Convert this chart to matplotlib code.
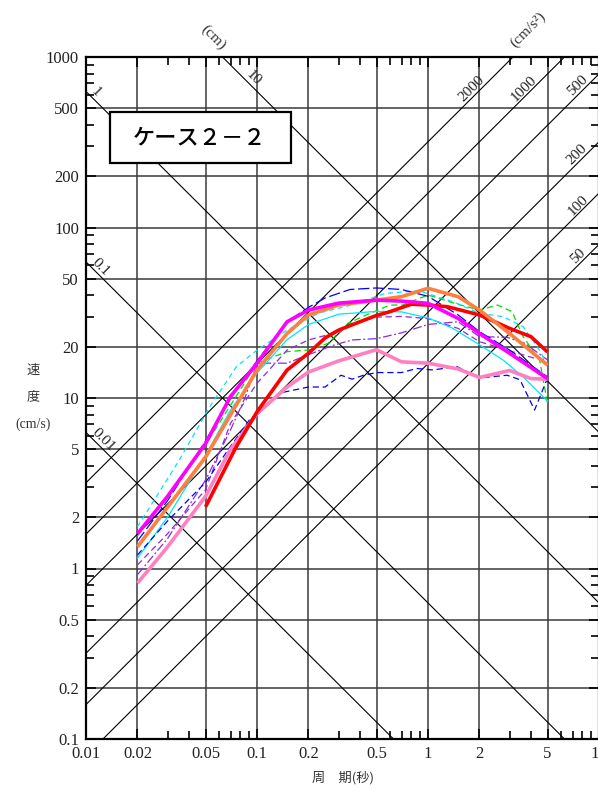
import numpy as np
import matplotlib
matplotlib.use("Agg")
import matplotlib.pyplot as plt
from matplotlib.patches import Rectangle

# ---------------- data ----------------
# thick lines
T_magenta = [0.02, 0.03, 0.05, 0.07, 0.1, 0.15, 0.2, 0.3, 0.5, 0.7, 1.0, 1.5, 2.0, 3.0, 5.0]
V_magenta = [1.6, 2.65, 5.4, 10.2, 16.0, 28.0, 32.8, 36.0, 37.5, 37.0, 35.9, 29.3, 23.9, 18.3, 13.0]

T_orange = [0.02, 0.05, 0.1, 0.15, 0.2, 0.3, 0.5, 0.7, 1.0, 1.5, 2.0, 3.0, 5.0]
V_orange = [1.34, 4.5, 14.6, 23.9, 30.7, 35.1, 37.5, 39.3, 44.0, 39.3, 32.8, 23.9, 15.6]

T_red = [0.05, 0.075, 0.1, 0.15, 0.2, 0.25, 0.3, 0.4, 0.5, 0.6, 0.8, 1.0, 1.3, 2.0, 3.0, 4.0, 5.0]
V_red = [2.3, 5.1, 8.3, 14.6, 18.3, 22.5, 25.0, 28.0, 30.5, 32.1, 35.5, 35.1, 34.3, 30.7, 25.6, 22.9, 18.6]

T_pink = [0.02, 0.03, 0.05, 0.07, 0.1, 0.15, 0.2, 0.3, 0.5, 0.7, 1.0, 1.5, 2.0, 3.0, 4.0, 5.0]
V_pink = [0.82, 1.34, 2.65, 5.0, 8.1, 11.6, 14.2, 16.5, 19.2, 16.3, 16.0, 14.8, 13.2, 14.5, 13.0, 12.9]

# thin lines
T_blue_hi = [0.02, 0.03, 0.05, 0.07, 0.1, 0.15, 0.2, 0.25, 0.35, 0.5, 0.7, 1.0, 1.5, 2.0, 3.0, 5.0]
V_blue_hi = [1.45, 2.5, 5.6, 10.0, 16.5, 28.0, 34.0, 38.6, 43.3, 44.2, 43.3, 39.5, 30.7, 24.5, 19.1, 13.3]

T_cyan_d = [0.02, 0.035, 0.053, 0.076, 0.1, 0.15, 0.23, 0.36, 0.56, 0.88, 1.4, 2.0, 2.75, 3.6, 4.5, 5.0]
V_cyan_d = [1.76, 4.3, 8.9, 15.3, 19.1, 25.0, 31.5, 35.2, 41.0, 42.6, 36.7, 31.4, 30.0, 26.2, 19.0, 15.5]

T_cyan_s = [0.02, 0.03, 0.05, 0.07, 0.1, 0.15, 0.2, 0.3, 0.5, 0.7, 1.0, 1.4, 2.0, 2.75, 3.6, 5.0]
V_cyan_s = [1.15, 2.0, 4.6, 8.5, 14.0, 22.0, 27.0, 31.0, 32.2, 32.0, 29.5, 25.6, 20.5, 16.7, 13.3, 9.6]

T_green = [0.02, 0.05, 0.1, 0.15, 0.2, 0.26, 0.34, 0.46, 0.6, 0.71, 1.0, 1.43, 2.0, 2.55, 3.1, 3.6, 4.5, 5.0]
V_green = [1.55, 5.3, 16.0, 18.7, 19.1, 20.9, 27.4, 31.4, 35.1, 35.1, 40.2, 35.9, 32.8, 35.1, 32.1, 22.9, 16.6, 9.3]

T_purple_a = [0.02, 0.03, 0.05, 0.07, 0.1, 0.15, 0.2, 0.26, 0.36, 0.5, 0.7, 1.0, 1.5, 2.0, 2.9, 4.2, 5.0]
V_purple_a = [1.05, 1.6, 2.9, 7.1, 12.2, 19.1, 21.9, 23.5, 27.5, 29.8, 30.1, 29.2, 25.6, 21.4, 19.1, 17.1, 16.7]

T_purple_b = [0.02, 0.03, 0.05, 0.07, 0.085, 0.1, 0.15, 0.19, 0.28, 0.36, 0.5, 0.7, 1.0, 1.5, 2.0, 2.9, 3.7, 5.0]
V_purple_b = [0.92, 1.5, 3.3, 6.5, 10.0, 16.0, 16.0, 17.6, 20.4, 21.9, 22.3, 24.1, 27.0, 28.0, 22.9, 22.7, 20.9, 16.7]

T_blue_lo = [0.02, 0.03, 0.05, 0.07, 0.09, 0.136, 0.2, 0.25, 0.31, 0.36, 0.42, 0.5, 0.7, 0.86, 1.07, 1.47, 2.0, 2.9, 3.45, 4.2, 5.0]
V_blue_lo = [1.2, 1.9, 3.2, 5.2, 7.4, 10.7, 11.6, 11.6, 13.6, 12.9, 13.6, 14.1, 14.1, 14.9, 14.6, 15.3, 13.1, 13.6, 12.8, 8.5, 13.1]

# tripartite guide values
disp_values = [0.01, 0.1, 1, 10]            # cm
disp_labels = ["0.01", "0.1", "1", "10"]
disp_label_T = [0.0118, 0.0115, 0.0107, 0.0892]
acc_values = [50, 100, 200, 500, 1000, 2000]  # cm/s^2
acc_labels = ["50", "100", "200", "500", "1000", "2000"]
acc_label_T = [8.05, 8.0, 7.9, 8.0, 3.87, 1.92]

x_ticks = [0.01, 0.02, 0.05, 0.1, 0.2, 0.5, 1, 2, 5, 10]
x_ticklabels = ["0.01", "0.02", "0.05", "0.1", "0.2", "0.5", "1", "2", "5", "10"]
y_ticks = [0.1, 0.2, 0.5, 1, 2, 5, 10, 20, 50, 100, 200, 500, 1000]
y_ticklabels = ["0.1", "0.2", "0.5", "1", "2", "5", "10", "20", "50", "100", "200", "500", "1000"]

title_text = "ケース２－２"

# ---------------- figure ----------------
W, H = 598, 788
fig = plt.figure(figsize=(W / 100, H / 100), dpi=100)
ax = fig.add_axes([86 / W, 1 - 739 / H, 513 / W, 682 / H])
ax.set_xscale("log")
ax.set_yscale("log")
ax.set_xlim(0.01, 10)
ax.set_ylim(0.1, 1000)

serif = "Liberation Serif"
cjk = ["Noto Sans CJK JP", "DejaVu Sans"]

ax.set_xticks(x_ticks)
ax.set_xticklabels(x_ticklabels)
ax.set_yticks(y_ticks)
ax.set_yticklabels(y_ticklabels)
minor_x = [m * d for d in [0.01, 0.1, 1] for m in [3, 4, 6, 7, 8, 9]]
minor_y = [m * d for d in [0.1, 1, 10, 100] for m in [3, 4, 6, 7, 8, 9]]
ax.set_xticks(minor_x, minor=True)
ax.set_yticks(minor_y, minor=True)
ax.xaxis.set_minor_formatter(plt.NullFormatter())
ax.yaxis.set_minor_formatter(plt.NullFormatter())
ax.tick_params(which="both", direction="in", top=True, right=True, width=1.2, color="black")
ax.tick_params(which="major", length=7.5, pad=5, labelsize=12, labelcolor="#222")
ax.tick_params(which="minor", length=5.5)
for lab in ax.get_xticklabels() + ax.get_yticklabels():
    lab.set_fontfamily(serif)
for sp in ax.spines.values():
    sp.set_linewidth(1.6)

ax.grid(which="major", color="#3a3a3a", linewidth=1.1, zorder=1)

# tripartite lines
T_line = np.logspace(-2, 1, 200)
for D in disp_values:
    ax.plot(T_line, 2 * np.pi * D / T_line, color="black", lw=0.8, zorder=2)
for A in acc_values:
    ax.plot(T_line, A * T_line / (2 * np.pi), color="black", lw=0.8, zorder=2)

for D, s, t in zip(disp_values, disp_labels, disp_label_T):
    ax.text(t, 2 * np.pi * D / t, s, rotation=-45, rotation_mode="anchor",
            ha="center", va="bottom", fontsize=11, family=serif, color="#222", zorder=3)
for A, s, t in zip(acc_values, acc_labels, acc_label_T):
    ax.text(t, A * t / (2 * np.pi), s, rotation=45, rotation_mode="anchor",
            ha="center", va="bottom", fontsize=11, family=serif, color="#222", zorder=3)

# thin series
thin = [
    (T_green, V_green, "#00dd00", (0, (5, 3))),
    (T_purple_b, V_purple_b, "#8a2be2", (0, (7, 2, 1.5, 2))),
    (T_purple_a, V_purple_a, "#8a2be2", (0, (5, 3))),
    (T_cyan_s, V_cyan_s, "#00e5ff", "-"),
    (T_cyan_d, V_cyan_d, "#00e5ff", (0, (4, 3))),
    (T_blue_lo, V_blue_lo, "#0000ff", (0, (5, 3))),
    (T_blue_hi, V_blue_hi, "#0000ff", (0, (9, 3))),
]
for T, V, c, ls in thin:
    ax.plot(T, V, color=c, lw=0.9, linestyle=ls, zorder=4)

thick = [
    (T_pink, V_pink, "#ff80c0"),
    (T_red, V_red, "#ff0000"),
    (T_orange, V_orange, "#ff7f40"),
    (T_magenta, V_magenta, "#ff00ff"),
]
for T, V, c in thick:
    ax.plot(T, V, color=c, lw=2.6, zorder=5, solid_capstyle="butt")

# axis titles
fig.text(343 / W, 1 - 778 / H, "周　期(秒)", family=cjk, fontsize=9.5,
         ha="center", va="center", color="#333")
fig.text(33 / W, 1 - 370 / H, "速", family=cjk, fontsize=9.5, ha="center", va="center", color="#333")
fig.text(33 / W, 1 - 397 / H, "度", family=cjk, fontsize=9.5, ha="center", va="center", color="#333")
fig.text(33 / W, 1 - 424 / H, "(cm/s)", family=serif, fontsize=10, ha="center", va="center", color="#333")
fig.text(213 / W, 1 - 37 / H, "(cm)", family=serif, fontsize=11, rotation=-45,
         ha="center", va="center", color="#333")
fig.text(528 / W, 1 - 30 / H, "(cm/s²)", family=serif, fontsize=11, rotation=45,
         ha="center", va="center", color="#333")

# title box
fig.add_artist(Rectangle((110 / W, 1 - 163 / H), 181 / W, 51 / H, transform=fig.transFigure,
                         facecolor="white", edgecolor="black", linewidth=1.6, zorder=6))
fig.text(200 / W, 1 - 138 / H, title_text, family=cjk, fontsize=16, fontweight="medium",
         ha="center", va="center", color="black", zorder=7)

fig.savefig("out.png", dpi=100)
